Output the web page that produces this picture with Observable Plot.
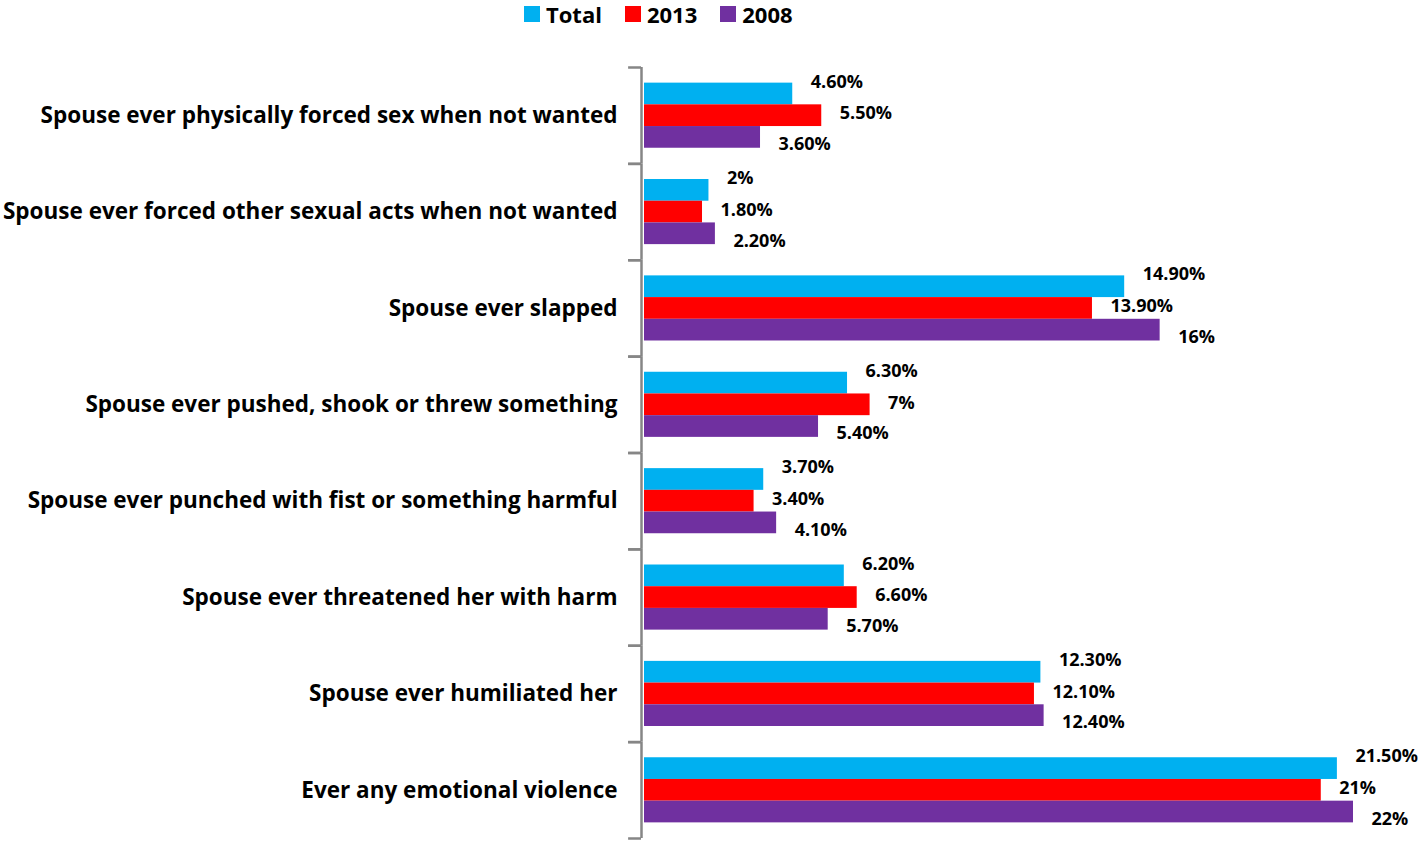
<!DOCTYPE html>
<html>
<head>
<meta charset="utf-8">
<script src="https://cdn.jsdelivr.net/npm/d3@7"></script>
<script src="https://cdn.jsdelivr.net/npm/@observablehq/plot@0.6"></script>
<style>
  html, body { margin: 0; padding: 0; background: #fff; }
  body { width: 1418px; height: 841px; overflow: hidden; font-family: "Open Sans", Lato, sans-serif; }
  #legend { height: 28px; display: flex; align-items: center; padding-left: 524px; font-weight: bold; font-size: 22px; line-height: 28px; color: #000; }
  #legend .item { display: flex; align-items: center; margin-right: 23px; }
  #legend .sw { width: 16px; height: 16px; margin-right: 6px; }
</style>
</head>
<body>
<div id="legend"></div>
<div id="chart"></div>
<script>
const categories = [
  "Spouse ever physically forced sex when not wanted",
  "Spouse ever forced other sexual acts when not wanted",
  "Spouse ever slapped",
  "Spouse ever pushed, shook or threw something",
  "Spouse ever punched with fist or something harmful",
  "Spouse ever threatened her with harm",
  "Spouse ever humiliated her",
  "Ever any emotional violence"
];
const series = ["Total", "2013", "2008"];
const totalValues = [4.6, 2, 14.9, 6.3, 3.7, 6.2, 12.3, 21.5];
const values2013 = [5.5, 1.8, 13.9, 7, 3.4, 6.6, 12.1, 21];
const values2008 = [3.6, 2.2, 16, 5.4, 4.1, 5.7, 12.4, 22];
const colors = ["#00B0F0", "#FF0000", "#7030A0"];

const seriesValues = [totalValues, values2013, values2008];
const rows = [];
categories.forEach((c, i) => series.forEach((s, j) => rows.push({category: c, series: s, value: seriesValues[j][i]})));

const fmt = v => Number.isInteger(v) ? v + "%" : v.toFixed(2) + "%";

// legend
const legend = document.getElementById("legend");
series.forEach((s, j) => {
  const item = document.createElement("div");
  item.className = "item";
  item.innerHTML = `<span class="sw" style="background:${colors[j]}"></span><span>${s}</span>`;
  legend.appendChild(item);
});

const W = 1418, H = 813, mt = 39, mb = 3, ml = 644, mr = 65;
const po = 0.72;
const step = (H - mt - mb) / categories.length;
const bw = step / (series.length + 2 * po);
const edge = po * bw + bw / 2;
const labelDy = {"Total": -12, "2013": -2, "2008": 7};

const marks = [
  Plot.barX(rows, {x: "value", y: "series", fill: "series"}),
  ...series.map(s => Plot.text(rows, {
    filter: d => d.series === s,
    x: "value", y: "series", text: d => fmt(d.value),
    dx: 18, dy: labelDy[s], textAnchor: "start", fontSize: 18, fontWeight: "bold", fill: "#000"
  })),
  Plot.ruleX([0], {dx: -3, stroke: "#868686", strokeWidth: 2.5}),
  Plot.ruleY([series[0]], {y: d => d, x1: -0.4, x2: 0, dx: -3, dy: -edge, stroke: "#868686", strokeWidth: 2.5}),
  Plot.ruleY([series[2]], {y: d => d, x1: -0.4, x2: 0, dx: -3, dy: edge, stroke: "#868686", strokeWidth: 2.5})
];

const chart = Plot.plot({
  width: W, height: H,
  marginTop: mt, marginBottom: mb, marginLeft: ml, marginRight: mr,
  style: {fontFamily: "'Open Sans', Lato, sans-serif", fontSize: "22.5px", fontWeight: "bold", color: "#000", background: "#fff"},
  facet: {data: rows, y: "category"},
  fy: {domain: categories, padding: 0, round: false, axis: "left", tickSize: 0, tickPadding: 27, label: null},
  y: {domain: series, paddingInner: 0, paddingOuter: po, round: false, axis: null},
  x: {domain: [0, 22], axis: null},
  color: {domain: series, range: colors},
  marks
});
document.getElementById("chart").appendChild(chart);
</script>
</body>
</html>
